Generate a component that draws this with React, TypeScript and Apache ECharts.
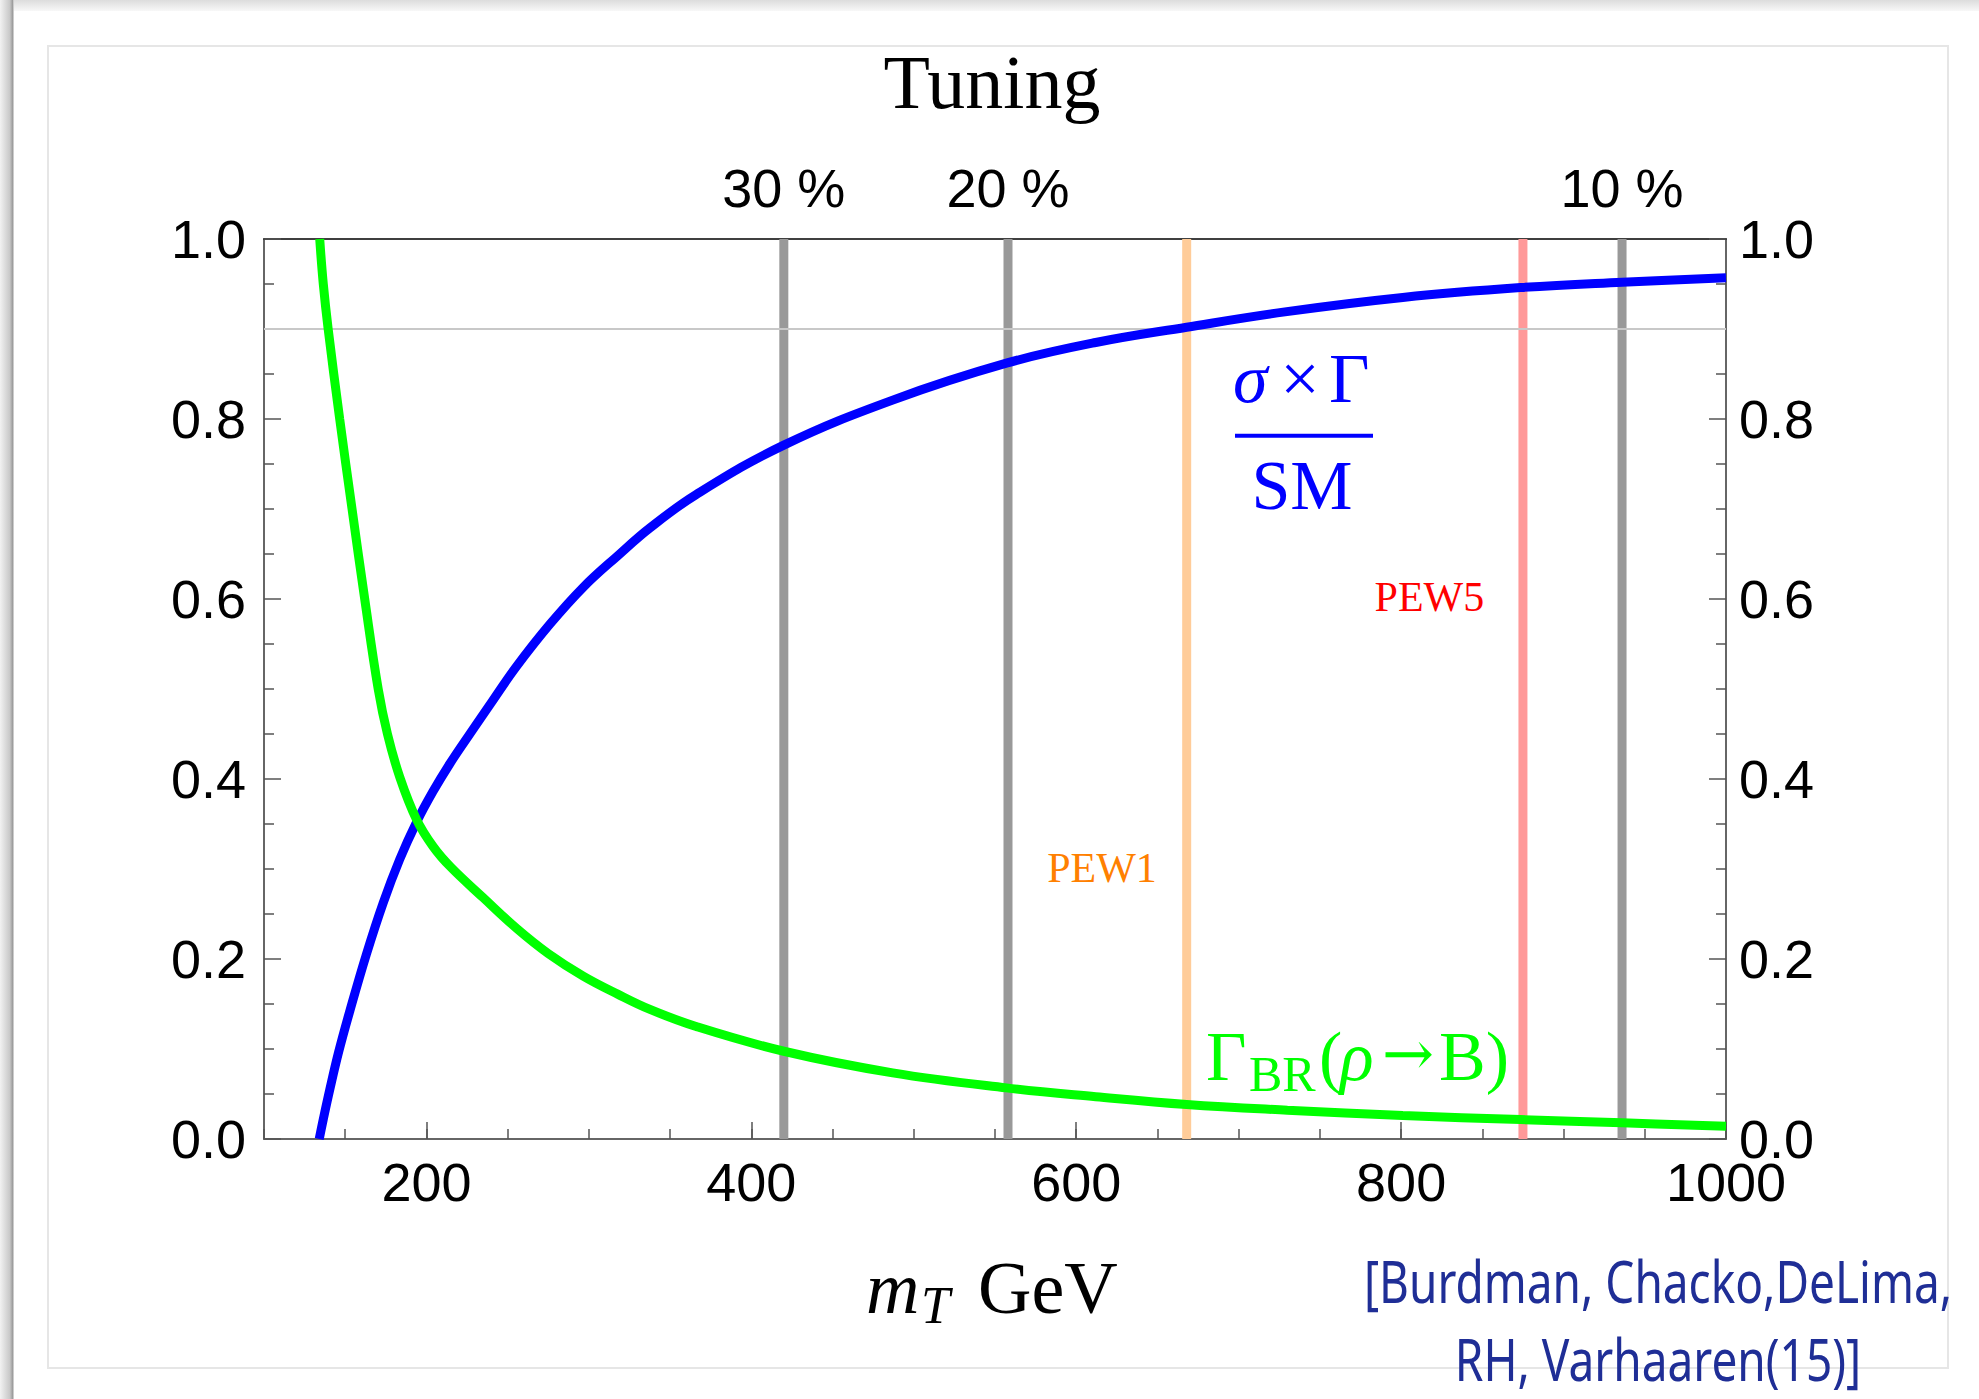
import React, { useEffect, useRef } from "react";
import * as echarts from "echarts";

// ---------- data ----------
const X_MIN = 100;
const X_MAX = 1000;
const Y_MIN = 0;
const Y_MAX = 1;
const xMajorTicks = [200, 400, 600, 800, 1000];
const tuningX = [420, 558, 936];
const tuningLabels = ["30 %", "20 %", "10 %"];
const pewX = [668, 875];
const pewNames = ["PEW1", "PEW5"];
const refLevel = 0.9;

// sigma x Gamma / SM (blue)
const sigmaX = [134, 136.5, 140.5, 146, 152.8, 163, 173.3, 183.6, 193.9, 204, 214.4, 226.7, 240, 255, 276, 296.5, 317.7, 337.6, 366, 420, 487, 557, 612, 668, 728.5, 801, 873.5, 936, 1000];
const sigmaY = [0, 0.022, 0.055, 0.097, 0.142, 0.205, 0.262, 0.311, 0.352, 0.386, 0.417, 0.450, 0.485, 0.524, 0.572, 0.613, 0.648, 0.679, 0.716, 0.771, 0.821, 0.862, 0.885, 0.902, 0.919, 0.935, 0.946, 0.952, 0.957];

// Gamma_BR(rho -> B) (green)
const brX = [134.3, 136.5, 139.5, 146.6, 154.2, 162, 170.3, 176, 183.6, 193.9, 204.1, 215, 235, 255.5, 275, 296.5, 317.7, 337.6, 366, 420, 487, 557, 612, 668, 730, 801, 873.5, 936, 1000];
const brY = [1.0, 0.95, 0.9, 0.8, 0.7, 0.6, 0.5, 0.45, 0.402, 0.355, 0.325, 0.302, 0.268, 0.234, 0.206, 0.181, 0.161, 0.144, 0.125, 0.0975, 0.0735, 0.0568, 0.047, 0.0383, 0.032, 0.0261, 0.0216, 0.018, 0.0142];

// ---------- styles ----------
const SANS = '"Liberation Sans", Arial, sans-serif';
const SERIF = '"Liberation Serif", "Times New Roman", serif';
const TICK_COLOR = "#555";
const AXIS_COLOR = "#666";
const GRAY = "#999999";
const PEW_LINE_COLORS = ["#FFCC99", "#FF9999"];
const PEW_TEXT_COLORS = ["#FF8000", "#FF0000"];
const BLUE = "#0000FF";
const GREEN = "#00FF00";
const CITE = "#1F2E96";

const labelStyle = { fontSize: 54, fontFamily: SANS, color: "#000" };

function vLine(x: number, color: string) {
  return {
    type: "line",
    data: [[x, Y_MIN], [x, Y_MAX]],
    symbol: "none",
    silent: true,
    lineStyle: { color, width: 9 },
    z: 2,
  };
}

function txt(text: string, x: number, y: number, size: number, color: string, opts: any = {}) {
  return {
    type: "text",
    x,
    y,
    silent: true,
    z: 20,
    scaleX: opts.scaleX || 1,
    scaleY: opts.scaleY || 1,
    style: {
      text,
      fill: color,
      fontSize: size,
      fontFamily: opts.family || SERIF,
      fontStyle: opts.italic ? "italic" : "normal",
      align: opts.align || "left",
      verticalAlign: "middle",
    },
  };
}

function buildOption() {
  const yAxisCommon = {
    type: "value",
    min: Y_MIN,
    max: Y_MAX,
    interval: 0.2,
    axisLine: { show: true, onZero: false, lineStyle: { color: AXIS_COLOR, width: 2 } },
    axisTick: { show: true, inside: true, length: 17, lineStyle: { color: TICK_COLOR, width: 1.5 } },
    minorTick: { show: true, splitNumber: 4, length: 10, lineStyle: { color: TICK_COLOR, width: 1.5 } },
    splitLine: { show: false },
    minorSplitLine: { show: false },
  };

  const series: any[] = [];
  tuningX.forEach((x) => series.push(vLine(x, GRAY)));
  pewX.forEach((x, i) => series.push(vLine(x, PEW_LINE_COLORS[i])));
  series.push({
    type: "line",
    data: [[X_MIN, refLevel], [X_MAX, refLevel]],
    symbol: "none",
    silent: true,
    lineStyle: { color: "#c8c8c8", width: 2 },
    z: 2,
  });
  series.push({
    type: "line",
    name: "sigma",
    data: sigmaX.map((x, i) => [x, sigmaY[i]]),
    symbol: "none",
    smooth: 0.4,
    lineStyle: { color: BLUE, width: 9 },
    z: 3,
  });
  series.push({
    type: "line",
    name: "br",
    data: brX.map((x, i) => [x, brY[i]]),
    symbol: "none",
    smooth: 0.4,
    lineStyle: { color: GREEN, width: 9 },
    z: 3,
  });

  const graphic: any[] = [
    // page shadows / frame
    {
      type: "rect",
      silent: true,
      z: 0,
      shape: { x: 0, y: 0, width: 1979, height: 11 },
      style: {
        fill: new echarts.graphic.LinearGradient(0, 0, 0, 1, [
          { offset: 0, color: "#dcdcdc" },
          { offset: 1, color: "#f8f8f8" },
        ]),
      },
    },
    {
      type: "rect",
      silent: true,
      z: 0,
      shape: { x: 0, y: 0, width: 14, height: 1399 },
      style: {
        fill: new echarts.graphic.LinearGradient(0, 0, 1, 0, [
          { offset: 0, color: "#f2f2f2" },
          { offset: 0.7, color: "#c8c8c8" },
          { offset: 0.9, color: "#9c9c9c" },
          { offset: 1, color: "#e6e6e6" },
        ]),
      },
    },
    {
      type: "rect",
      silent: true,
      z: 0,
      shape: { x: 48, y: 46, width: 1900, height: 1322 },
      style: { fill: "none", stroke: "#e6e6e6", lineWidth: 2 },
    },
    // title
    txt("Tuning", 992, 81.7, 76, "#000", { align: "center" }),
    // sigma x Gamma / SM
    txt("σ", 1233, 378.1, 70, BLUE, { italic: true }),
    txt("×", 1300, 378.1, 70, BLUE, { align: "center" }),
    txt("Γ", 1329, 378.1, 70, BLUE),
    {
      type: "line",
      silent: true,
      z: 20,
      shape: { x1: 1235, y1: 435.7, x2: 1373, y2: 435.7 },
      style: { stroke: BLUE, lineWidth: 4 },
    },
    txt("SM", 1302, 485.7, 70, BLUE, { align: "center" }),
    // Gamma_BR(rho -> B)
    txt("Γ", 1206, 1056.4, 70, GREEN),
    txt("BR", 1249, 1073.8, 50, GREEN),
    txt("(", 1319, 1056.4, 70, GREEN),
    txt("ρ", 1340, 1056.4, 70, GREEN, { italic: true }),
    txt("→", 1382, 1053, 62, GREEN, { family: '"DejaVu Serif", serif' }),
    txt("B)", 1439, 1056.4, 70, GREEN),
    // PEW labels
    txt(pewNames[0], 1102, 868.1, 42, PEW_TEXT_COLORS[0], { align: "center" }),
    txt(pewNames[1], 1429.4, 596.5, 42, PEW_TEXT_COLORS[1], { align: "center" }),
    // x axis title
    txt("m", 866, 1288, 74, "#000", { italic: true }),
    txt("T", 921, 1305.5, 52, "#000", { italic: true }),
    txt("GeV", 978, 1288, 74, "#000"),
    // citation
    txt("[Burdman, Chacko,DeLima,", 1658, 1280, 46, CITE, { align: "center", family: '"Noto Sans", sans-serif', scaleY: 1.28 }),
    txt("RH, Varhaaren(15)]", 1658, 1358, 46, CITE, { align: "center", family: '"Noto Sans", sans-serif', scaleY: 1.28 }),
  ];

  return {
    animation: false,
    backgroundColor: "#ffffff",
    grid: {
      left: 264,
      right: 253,
      top: 239,
      bottom: 260,
      containLabel: false,
      outerBoundsMode: "none",
    },
    xAxis: [
      {
        type: "value",
        position: "bottom",
        min: X_MIN,
        max: X_MAX,
        interval: 50,
        axisLine: { show: true, onZero: false, lineStyle: { color: AXIS_COLOR, width: 2 } },
        axisTick: { show: true, inside: true, length: 10, lineStyle: { color: TICK_COLOR, width: 1.5 } },
        axisLabel: { ...labelStyle, margin: 16, customValues: xMajorTicks, formatter: (v: number) => String(Math.round(v)) },
        splitLine: { show: false },
      },
      {
        type: "value",
        position: "bottom",
        min: X_MIN,
        max: X_MAX,
        axisLine: { show: false, onZero: false },
        axisTick: { show: true, inside: true, length: 17, customValues: xMajorTicks, lineStyle: { color: TICK_COLOR, width: 1.5 } },
        axisLabel: { show: false },
        splitLine: { show: false },
      },
      {
        type: "value",
        position: "top",
        min: X_MIN,
        max: X_MAX,
        axisLine: { show: true, onZero: false, lineStyle: { color: "#000", width: 1.5 } },
        axisTick: { show: true, inside: true, length: 15, customValues: tuningX, lineStyle: { color: TICK_COLOR, width: 1.5 } },
        axisLabel: {
          ...labelStyle,
          margin: 24,
          customValues: tuningX,
          formatter: (v: number) => {
            const i = tuningX.findIndex((t) => Math.abs(t - v) < 1e-6);
            return i >= 0 ? tuningLabels[i] : "";
          },
        },
        splitLine: { show: false },
      },
    ],
    yAxis: [
      {
        ...yAxisCommon,
        position: "left",
        axisLabel: { ...labelStyle, margin: 18, formatter: (v: number) => v.toFixed(1) },
      },
      {
        ...yAxisCommon,
        position: "right",
        axisLabel: { ...labelStyle, margin: 13, formatter: (v: number) => v.toFixed(1) },
      },
    ],
    series,
    graphic,
  };
}

export default function App() {
  const ref = useRef<HTMLDivElement>(null);
  useEffect(() => {
    if (!ref.current) return;
    const chart = echarts.init(ref.current, null, { renderer: "svg" });
    chart.setOption(buildOption() as any);
    return () => chart.dispose();
  }, []);
  return (
    <div
      ref={ref}
      style={{ position: "fixed", left: 0, top: 0, width: 1979, height: 1399, background: "#fff" }}
    />
  );
}
